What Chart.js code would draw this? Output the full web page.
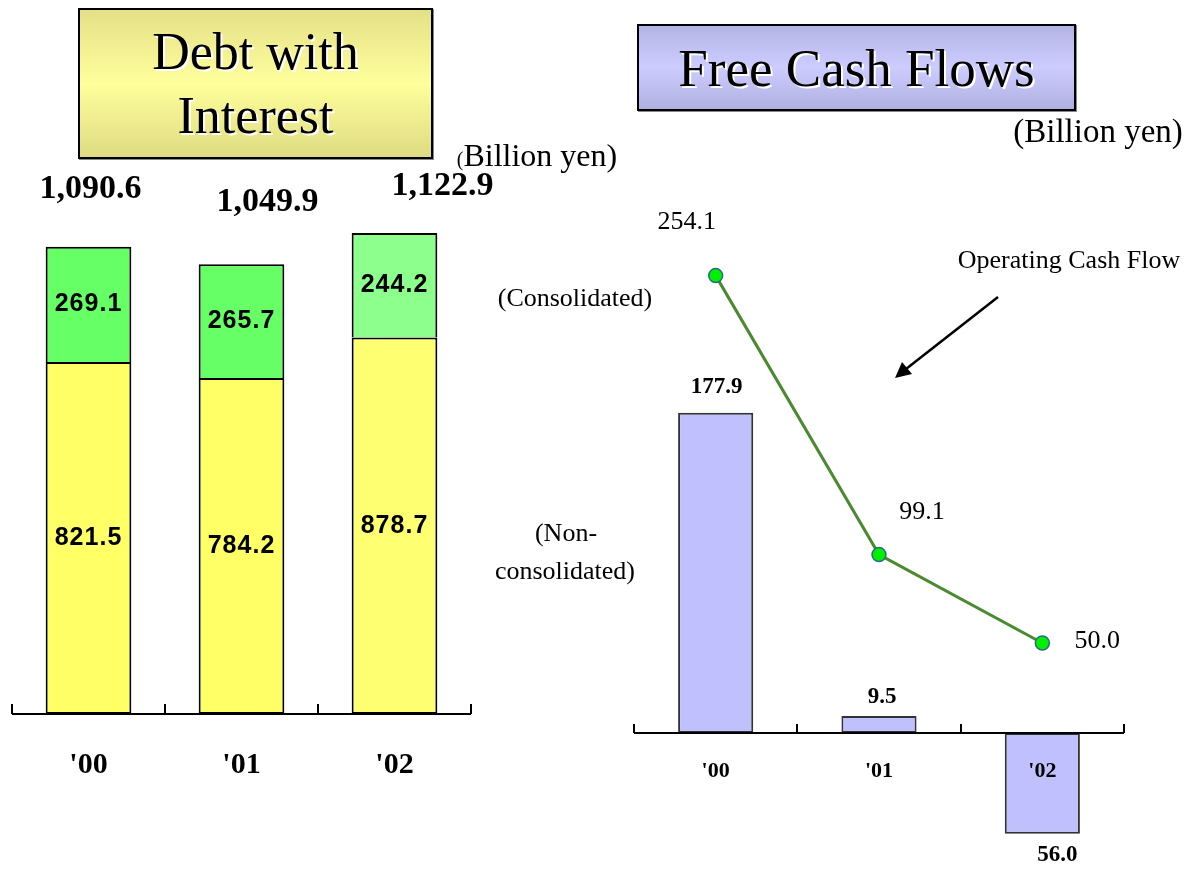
<!DOCTYPE html>
<html>
<head>
<meta charset="utf-8">
<script src="https://cdn.jsdelivr.net/npm/chart.js@4.4.1/dist/chart.umd.min.js"></script>
<style>
  html, body { margin: 0; padding: 0; background: #fff; }
  body { width: 1189px; height: 869px; position: relative; overflow: hidden; font-family: "Liberation Serif", serif; color: #000; }
  canvas { position: absolute; top: 0; }
  #debtChart { left: 0; }
  #fcfChart { left: 480px; }
  .title-box { position: absolute; border: 2px solid #000; box-sizing: border-box; display: flex; align-items: center; justify-content: center; text-align: center; text-shadow: 2px 2px 0 #fff; box-shadow: 1px 1px 0 #888; }
  #debtTitle { left: 78px; top: 8px; width: 355px; height: 151px; font-size: 52px; line-height: 64px;
    background: linear-gradient(to bottom, #e4e088, #ffff9c 50%, #dedb82); }
  #fcfTitle { left: 637px; top: 24px; width: 439px; height: 87px; font-size: 53px; line-height: 60px;
    background: linear-gradient(to bottom, #b4b4e4, #ccccff 50%, #b0b0e0); }
  .note { position: absolute; white-space: nowrap; transform: translate(-50%, -50%); }
</style>
</head>
<body>
<canvas id="debtChart" width="500" height="869"></canvas>
<canvas id="fcfChart" width="709" height="869"></canvas>

<div class="title-box" id="debtTitle">Debt with<br>Interest</div>
<div class="title-box" id="fcfTitle">Free Cash Flows</div>

<div class="note" style="left:537px; top:155px; font-size:32px;"><span style="font-size:20px;">(</span>Billion yen)</div>
<div class="note" style="left:1098px; top:131px; font-size:33px;">(Billion yen)</div>
<div class="note" style="left:575px; top:298px; font-size:26px;">(Consolidated)</div>
<div class="note" style="left:1069px; top:260px; font-size:26px;">Operating Cash Flow</div>
<div class="note" style="left:566px; top:533px; font-size:26px;">(Non-</div>
<div class="note" style="left:565px; top:571px; font-size:26px;">consolidated)</div>

<svg style="position:absolute; left:0; top:0;" width="1189" height="869">
  <line x1="998" y1="297" x2="906" y2="369" stroke="#000" stroke-width="2.5"/>
  <polygon points="895,378 902,362 912,374" fill="#000"/>
</svg>

<script>
// ---- data ----
const years = ["'00", "'01", "'02"];
const debtLower = [821.5, 784.2, 878.7];
const debtUpper = [269.1, 265.7, 244.2];
const freeCashFlow = [177.9, 9.5, -56.0];
const operatingCashFlow = [254.1, 99.1, 50.0];

// label nudges (px), relative to the mark they belong to
const totalNudge = [[2, -58], [26, -62], [48, -47]];
const fcfNudge = [[1, -26], [3, -19], [15, 21]];
const ocfNudge = [[-29, -53], [43, -42], [55, -2]];

const fmt = v => v.toLocaleString('en-US', { minimumFractionDigits: 1, maximumFractionDigits: 1 });

// axis line with small upward ticks at category boundaries
function drawAxis(chart, yPix, tickLen) {
    const { ctx, chartArea, scales: { x } } = chart;
    const half = (x.getPixelForValue(1) - x.getPixelForValue(0)) / 2;
    ctx.save();
    ctx.strokeStyle = '#000';
    ctx.lineWidth = 2;
    ctx.beginPath();
    ctx.moveTo(chartArea.left, yPix);
    ctx.lineTo(chartArea.right, yPix);
    for (let i = 0; i <= years.length; i++) {
        const px = Math.round(x.getPixelForValue(0) - half + i * half * 2);
        ctx.moveTo(px, yPix);
        ctx.lineTo(px, yPix - tickLen);
    }
    ctx.stroke();
    ctx.restore();
}

// ---- Chart 1: Debt with Interest (stacked bar) ----
const debtPlugin = {
    id: 'debtLabels',
    afterDatasetsDraw(chart) {
        const { ctx, scales: { x, y } } = chart;
        ctx.save();
        ctx.fillStyle = '#000';
        ctx.textAlign = 'center';
        ctx.textBaseline = 'middle';

        // values inside each segment
        ctx.font = 'bold 25px "Liberation Sans"';
        ctx.letterSpacing = '1px';
        chart.data.datasets.forEach((ds, di) => {
            chart.getDatasetMeta(di).data.forEach((bar, i) => {
                const p = bar.getProps(['x', 'y', 'base'], true);
                ctx.fillText(fmt(ds.data[i]), p.x, (p.y + p.base) / 2);
            });
        });

        // totals above bars
        ctx.letterSpacing = '0px';
        ctx.font = 'bold 34px "Liberation Serif"';
        years.forEach((_, i) => {
            const total = debtLower[i] + debtUpper[i];
            const px = x.getPixelForValue(i) + totalNudge[i][0];
            const py = y.getPixelForValue(total) + totalNudge[i][1];
            ctx.fillText(fmt(total), px, py);
        });

        // axis + year labels
        const base = y.getPixelForValue(0);
        drawAxis(chart, base, 10);
        ctx.font = 'bold 30px "Liberation Serif"';
        years.forEach((yr, i) => ctx.fillText(yr, x.getPixelForValue(i), base + 51));
        ctx.restore();
    }
};

new Chart(document.getElementById('debtChart'), {
    type: 'bar',
    data: {
        labels: years,
        datasets: [
            {
                data: debtLower,
                backgroundColor: ['#ffff66', '#ffff66', '#ffff72'],
                borderColor: '#000',
                borderWidth: 2,
                borderSkipped: false
            },
            {
                data: debtUpper,
                backgroundColor: ['#66ff66', '#66ff66', '#8cff8c'],
                borderColor: '#000',
                borderWidth: 2,
                borderSkipped: 'start'
            }
        ]
    },
    options: {
        responsive: false,
        animation: false,
        devicePixelRatio: 1,
        layout: { padding: { left: 12, right: 29, top: 200, bottom: 155 } },
        datasets: { bar: { categoryPercentage: 1, barPercentage: 0.56 } },
        plugins: { legend: { display: false }, tooltip: { enabled: false } },
        scales: {
            x: { stacked: true, display: false },
            y: { stacked: true, display: false, min: 0, max: 1200 }
        }
    },
    plugins: [debtPlugin]
});

// ---- Chart 2: Free Cash Flows (bar + line) ----
const fcfPlugin = {
    id: 'fcfLabels',
    afterDatasetsDraw(chart) {
        const { ctx, scales: { x, y } } = chart;
        const zero = y.getPixelForValue(0);
        drawAxis(chart, zero, 9);

        ctx.save();
        ctx.fillStyle = '#000';
        ctx.textAlign = 'center';
        ctx.textBaseline = 'middle';

        ctx.font = 'bold 22px "Liberation Serif"';
        years.forEach((yr, i) => ctx.fillText(yr, x.getPixelForValue(i), zero + 38));

        ctx.font = 'bold 23px "Liberation Serif"';
        freeCashFlow.forEach((v, i) => {
            ctx.fillText(fmt(Math.abs(v)), x.getPixelForValue(i) + fcfNudge[i][0], y.getPixelForValue(v) + fcfNudge[i][1]);
        });

        ctx.font = '26px "Liberation Serif"';
        operatingCashFlow.forEach((v, i) => {
            ctx.fillText(fmt(v), x.getPixelForValue(i) + ocfNudge[i][0], y.getPixelForValue(v) + ocfNudge[i][1]);
        });
        ctx.restore();
    }
};

new Chart(document.getElementById('fcfChart'), {
    type: 'bar',
    data: {
        labels: years,
        datasets: [
            {
                type: 'line',
                data: operatingCashFlow,
                borderColor: '#4a8a30',
                borderWidth: 3,
                pointBackgroundColor: '#00f000',
                pointBorderColor: '#2a6a8a',
                pointBorderWidth: 1.5,
                pointRadius: 7,
                tension: 0,
                order: 0
            },
            {
                type: 'bar',
                data: freeCashFlow,
                backgroundColor: '#c0c0ff',
                borderColor: '#333',
                borderWidth: 2,
                borderSkipped: false,
                categoryPercentage: 1,
                barPercentage: 0.46,
                order: 1
            }
        ]
    },
    options: {
        responsive: false,
        animation: false,
        devicePixelRatio: 1,
        layout: { padding: { left: 154, right: 65, top: 229, bottom: 10 } },
        plugins: { legend: { display: false }, tooltip: { enabled: false } },
        scales: {
            x: { display: false, offset: true },
            y: { display: false, min: -70, max: 280 }
        }
    },
    plugins: [fcfPlugin]
});
</script>
</body>
</html>
